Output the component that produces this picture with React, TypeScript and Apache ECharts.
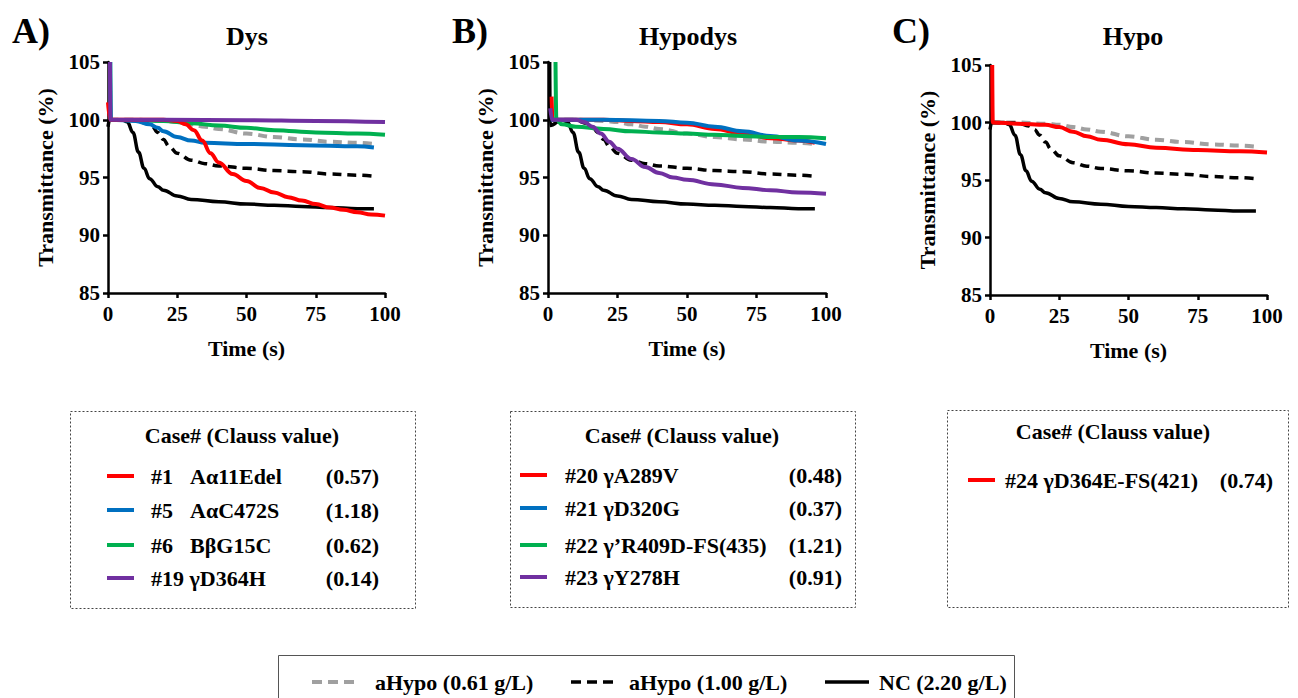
import React, { useEffect, useRef } from "react";
import * as echarts from "echarts";

const FONT = "Liberation Serif";

const panelTitles = ["Dys", "Hypodys", "Hypo"];
const panelLetters = ["A)", "B)", "C)"];
const xTitle = "Time (s)";
const yTitle = "Transmittance (%)";

// shared controls
const aHypo061 = [[0.5, 100], [10, 100], [20, 99.9], [25, 99.8], [30, 99.6], [35, 99.4], [40, 99.2], [50, 98.8], [60, 98.5], [70, 98.3], [80, 98.1], [90, 98.0], [96, 97.9]];
const aHypo100 = [[0.5, 100], [10, 99.95], [14, 99.7], [16, 99.4], [18, 98.9], [20, 98.3], [22, 97.7], [25, 97.1], [30, 96.5], [35, 96.2], [40, 96.0], [50, 95.8], [60, 95.6], [70, 95.5], [80, 95.3], [90, 95.2], [96, 95.1]];
const nc220 = [[0, 99.4], [0.6, 100], [5, 100], [7, 99.8], [9, 98.9], [11, 97.2], [13, 95.8], [15, 94.9], [18, 94.2], [20, 93.9], [25, 93.4], [30, 93.1], [40, 92.9], [50, 92.7], [60, 92.6], [70, 92.5], [80, 92.4], [90, 92.3], [96, 92.3]];
const ncSpikeB = [[0.6, 105], [0.8, 99.5]];

// A) Dys
const case1 = [[0, 101.5], [0.8, 100], [20, 100], [25, 99.9], [28, 99.6], [31, 99.1], [34, 98.2], [37, 97.1], [40, 96.3], [45, 95.3], [50, 94.7], [55, 94.1], [60, 93.7], [65, 93.3], [70, 93.0], [75, 92.7], [80, 92.4], [85, 92.2], [90, 92.0], [95, 91.8], [100, 91.7]];
const case5 = [[0.8, 105], [1, 100], [10, 99.9], [15, 99.6], [18, 99.3], [20, 99.0], [25, 98.5], [30, 98.2], [35, 98.0], [50, 97.9], [70, 97.8], [90, 97.7], [96, 97.6]];
const case6 = [[0.8, 105], [1, 100], [20, 99.9], [30, 99.7], [40, 99.5], [50, 99.3], [60, 99.1], [75, 98.9], [90, 98.8], [100, 98.7]];
const case19 = [[0.7, 105], [0.9, 100], [20, 100], [50, 99.95], [75, 99.9], [100, 99.8]];

// B) Hypodys
const case20 = [[1.3, 102], [1.6, 100], [20, 100], [30, 99.9], [40, 99.8], [50, 99.6], [60, 99.2], [70, 98.8], [80, 98.4], [90, 98.2], [96, 98.0]];
const case21 = [[1, 100], [20, 100], [40, 99.9], [50, 99.75], [60, 99.4], [70, 99.0], [80, 98.6], [90, 98.2], [100, 97.9]];
const case22 = [[2.7, 105], [3, 100], [5, 99.6], [10, 99.4], [20, 99.2], [30, 99.0], [40, 98.9], [50, 98.8], [60, 98.7], [70, 98.6], [80, 98.5], [90, 98.5], [100, 98.4]];
const case23 = [[0.8, 101], [1.5, 100], [10, 100], [13, 99.8], [16, 99.4], [19, 98.8], [22, 98.1], [25, 97.5], [30, 96.6], [35, 95.9], [40, 95.4], [45, 95.0], [50, 94.8], [60, 94.4], [70, 94.1], [80, 93.9], [90, 93.7], [100, 93.6]];

// C) Hypo
const case24 = [[0.8, 105], [1, 100], [10, 99.9], [20, 99.8], [25, 99.6], [30, 99.2], [35, 98.8], [40, 98.5], [50, 98.1], [60, 97.8], [75, 97.6], [90, 97.5], [100, 97.4]];

// legend texts
const legendHeader = "Case# (Clauss value)";
const numsA = ["#1", "#5", "#6", "#19"];
const mutsA = ["Aα11Edel", "AαC472S", "BβG15C", "γD364H"];
const claussA = ["(0.57)", "(1.18)", "(0.62)", "(0.14)"];
const namesB = ["#20 γA289V", "#21 γD320G", "#22 γ’R409D-FS(435)", "#23 γY278H"];
const claussB = ["(0.48)", "(0.37)", "(1.21)", "(0.91)"];
const namesC = ["#24 γD364E-FS(421)"];
const claussC = ["(0.74)"];
const controlNames = ["aHypo (0.61 g/L)", "aHypo (1.00 g/L)", "NC (2.20 g/L)"];

const RED = "#ff0000";
const BLUE = "#0070c0";
const GREEN = "#00b050";
const PURPLE = "#7030a0";
const GRAY = "#a0a0a0";
const BLACK = "#000000";
const caseColors = [RED, BLUE, GREEN, PURPLE];

const grids = [
  { left: 108, top: 62, width: 277, height: 231 },
  { left: 548, top: 62, width: 278, height: 231 },
  { left: 990, top: 65, width: 277, height: 230 },
];

export default function App() {
  const ref = useRef<HTMLDivElement>(null);
  useEffect(() => {
    if (!ref.current) return;
    const chart = echarts.init(ref.current, undefined, { renderer: "svg" });

    const xAxes = grids.map((_, i) => ({
      type: "value",
      gridIndex: i,
      min: 0,
      max: 100,
      interval: 25,
      name: xTitle,
      nameLocation: "middle",
      nameGap: 44,
      nameTextStyle: { fontFamily: FONT, fontWeight: "bold", fontSize: 22, color: BLACK },
      axisLine: { show: true, lineStyle: { color: BLACK, width: 2.5 } },
      axisTick: { show: true, inside: false, length: 5, lineStyle: { color: BLACK, width: 2.5 } },
      axisLabel: { fontFamily: FONT, fontWeight: "bold", fontSize: 21, color: BLACK, margin: 10 },
      splitLine: { show: false },
    }));
    const yAxes = grids.map((_, i) => ({
      type: "value",
      gridIndex: i,
      min: 85,
      max: 105,
      interval: 5,
      name: yTitle,
      nameLocation: "middle",
      nameGap: 52,
      nameTextStyle: { fontFamily: FONT, fontWeight: "bold", fontSize: 22, color: BLACK },
      axisLine: { show: true, lineStyle: { color: BLACK, width: 2.5 } },
      axisTick: { show: true, inside: false, length: 5, lineStyle: { color: BLACK, width: 2.5 } },
      axisLabel: { fontFamily: FONT, fontWeight: "bold", fontSize: 21, color: BLACK, margin: 8 },
      splitLine: { show: false },
    }));

    const mk = (name: string, data: number[][], idx: number, color: string, width: number, dashed?: boolean) => ({
      name,
      type: "line",
      xAxisIndex: idx,
      yAxisIndex: idx,
      data,
      showSymbol: false,
      symbol: "none",
      smooth: 0.4,
      smoothMonotone: "x",
      clip: true,
      lineStyle: { color, width, type: dashed ? [9, 6] : "solid" },
      z: 2,
    });

    const ncB = [...ncSpikeB, ...nc220.filter((p) => p[0] > 0.8)];
    const series: any[] = [];
    [0, 1, 2].forEach((i) => {
      series.push(mk("aHypo061_" + i, aHypo061, i, GRAY, 4, true));
      series.push(mk("aHypo100_" + i, aHypo100, i, BLACK, 3.5, true));
      series.push(mk("nc_" + i, i === 1 ? ncB : nc220, i, BLACK, 3.5));
    });
    [case6, case5, case1, case19].forEach((d, k) => {
      const colors = [GREEN, BLUE, RED, PURPLE];
      series.push(mk("A" + k, d, 0, colors[k], 4));
    });
    [case20, case21, case22, case23].forEach((d, k) => {
      series.push(mk("B" + k, d, 1, caseColors[k], 4));
    });
    series.push(mk("C0", case24, 2, RED, 4));

    const txt = (text: string, x: number, y: number, size: number, align = "left") => ({
      type: "text",
      x,
      y,
      style: {
        text,
        fill: BLACK,
        fontFamily: FONT,
        fontWeight: "bold",
        fontSize: size,
        align,
        verticalAlign: "middle",
      },
      silent: true,
    });
    const seg = (x1: number, x2: number, y: number, color: string, w: number, dash?: number[]) => ({
      type: "line",
      shape: { x1, y1: y, x2, y2: y },
      style: { stroke: color, lineWidth: w, lineDash: dash || null },
      silent: true,
    });
    const box = (x: number, y: number, w: number, h: number, dashed: boolean) => ({
      type: "rect",
      shape: { x, y, width: w, height: h },
      style: { fill: "none", stroke: dashed ? "#444" : "#555", lineWidth: 1, lineDash: dashed ? [2, 2] : null },
      silent: true,
    });

    const graphic: any[] = [];
    const letterX = [12, 452, 892];
    const titleX = [247, 688, 1133];
    panelLetters.forEach((l, i) => graphic.push(txt(l, letterX[i], 31, 36)));
    panelTitles.forEach((t, i) => graphic.push(txt(t, titleX[i], 36, 26, "center")));

    // legend box A
    const rowsA = [476, 510, 545, 578];
    graphic.push(box(70.5, 411.5, 345, 197, true));
    graphic.push(txt(legendHeader, 242, 435, 22, "center"));
    rowsA.forEach((y, k) => {
      graphic.push(seg(107, 134, y, caseColors[k], 4));
      if (k < 3) {
        graphic.push(txt(numsA[k], 151, y, 22));
        graphic.push(txt(mutsA[k], 190, y, 22));
      } else {
        graphic.push(txt(numsA[k] + " " + mutsA[k], 151, y, 22));
      }
      graphic.push(txt(claussA[k], 379, y, 22, "right"));
    });

    // legend box B
    const rowsB = [475, 508, 545, 577];
    graphic.push(box(510.5, 411.5, 345, 196, true));
    graphic.push(txt(legendHeader, 682, 435, 22, "center"));
    rowsB.forEach((y, k) => {
      graphic.push(seg(520, 547, y, caseColors[k], 4));
      graphic.push(txt(namesB[k], 565, y, 22));
      graphic.push(txt(claussB[k], 842, y, 22, "right"));
    });

    // legend box C
    graphic.push(box(947.5, 410.5, 341, 197, true));
    graphic.push(txt(legendHeader, 1113, 431, 22, "center"));
    graphic.push(seg(968, 995, 480, RED, 4));
    graphic.push(txt(namesC[0], 1005, 480, 22));
    graphic.push(txt(claussC[0], 1273, 480, 22, "right"));

    // bottom legend
    graphic.push(box(278.5, 655.5, 736, 60, false));
    graphic.push(seg(312, 358, 682, GRAY, 4, [10, 6]));
    graphic.push(txt(controlNames[0], 375, 682, 22));
    graphic.push(seg(571, 613, 682, BLACK, 3.5, [10, 6]));
    graphic.push(txt(controlNames[1], 629, 682, 22));
    graphic.push(seg(825, 869, 682, BLACK, 3.5));
    graphic.push(txt(controlNames[2], 879, 682, 22));

    chart.setOption({
      animation: false,
      backgroundColor: "#ffffff",
      grid: grids.map((g) => ({ ...g, containLabel: false })),
      xAxis: xAxes,
      yAxis: yAxes,
      series,
      graphic,
    });
    return () => chart.dispose();
  }, []);
  return (
    <div
      ref={ref}
      style={{ position: "fixed", left: 0, top: 0, width: 1298, height: 698, background: "#fff" }}
    />
  );
}
